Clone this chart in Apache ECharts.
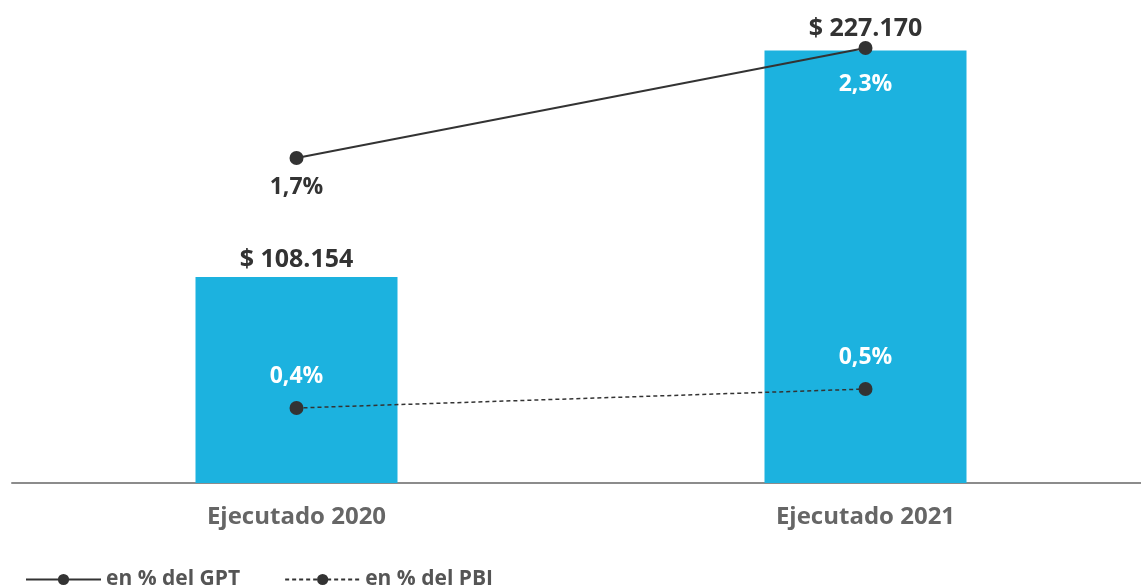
<!DOCTYPE html>
<html>
<head>
<meta charset="utf-8">
<script src="https://cdn.jsdelivr.net/npm/echarts@6/dist/echarts.min.js"></script>
<style>
html,body{margin:0;padding:0;background:#fff;}
#chart{width:1141px;height:588px;}
</style>
</head>
<body>
<div id="chart"></div>
<script>
const categories = ['Ejecutado 2020', 'Ejecutado 2021'];
const montos = [108154, 227170];
const montoLabels = ['$ 108.154', '$ 227.170'];
const pctGPT = [1.7, 2.3];
const pctPBI = [0.4, 0.5];
const pctGPTLabels = ['1,7%', '2,3%'];
const pctPBILabels = ['0,4%', '0,5%'];

const FONT = '"Open Sans", "Noto Sans", sans-serif';
const chart = echarts.init(document.getElementById('chart'));

chart.setOption({
  animation: false,
  backgroundColor: '#ffffff',
  textStyle: { fontFamily: FONT },
  grid: { left: 12, width: 1138, top: 7, bottom: 105, containLabel: false, outerBoundsMode: 'none' },
  legend: {
    left: 20, top: 564,
    itemWidth: 75, itemHeight: 14, itemGap: 44,
    textStyle: { fontFamily: FONT, fontWeight: 'bold', fontSize: 21, color: '#555' },
    data: ['en % del GPT', 'en % del PBI']
  },
  xAxis: {
    type: 'category',
    data: categories,
    axisLine: { lineStyle: { color: '#8c8c8c', width: 2 } },
    axisTick: { show: false },
    axisLabel: { margin: 22, fontFamily: FONT, fontWeight: 'bold', fontSize: 24, color: '#666' }
  },
  yAxis: [
    { type: 'value', min: 0, max: 250000, show: false, splitLine: { show: false } },
    { type: 'value', min: -0.0727, max: 2.5236, show: false, splitLine: { show: false } },
    { type: 'value', min: 0.0053, max: 2.5106, show: false, splitLine: { show: false } }
  ],
  series: [
    {
      type: 'bar',
      yAxisIndex: 0,
      barWidth: 202,
      data: [
        { value: montos[0], label: { distance: 5 } },
        { value: montos[1], label: { distance: 9 } }
      ],
      itemStyle: { color: '#1cb2df' },
      label: {
        show: true, position: 'top',
        fontFamily: FONT, fontWeight: 'bold', fontSize: 25, color: '#333',
        formatter: p => montoLabels[p.dataIndex]
      },
      z: 1
    },
    {
      name: 'en % del GPT',
      type: 'line',
      yAxisIndex: 1,
      data: [
        { value: pctGPT[0], label: { distance: 11, color: '#333' } },
        { value: pctGPT[1], label: { distance: 18, color: '#ffffff' } }
      ],
      symbol: 'circle', symbolSize: 14,
      itemStyle: { color: '#333' },
      lineStyle: { color: '#333', width: 2, type: 'solid' },
      label: {
        show: true, position: 'bottom',
        fontFamily: FONT, fontWeight: 'bold', fontSize: 23,
        formatter: p => pctGPTLabels[p.dataIndex]
      },
      z: 5
    },
    {
      name: 'en % del PBI',
      type: 'line',
      yAxisIndex: 2,
      data: pctPBI,
      symbol: 'circle', symbolSize: 14,
      itemStyle: { color: '#333' },
      lineStyle: { color: '#333', width: 1.5, type: [4, 3] },
      label: {
        show: true, position: 'top', distance: 13,
        fontFamily: FONT, fontWeight: 'bold', fontSize: 23, color: '#ffffff',
        formatter: p => pctPBILabels[p.dataIndex]
      },
      z: 5
    }
  ]
});
</script>
</body>
</html>
